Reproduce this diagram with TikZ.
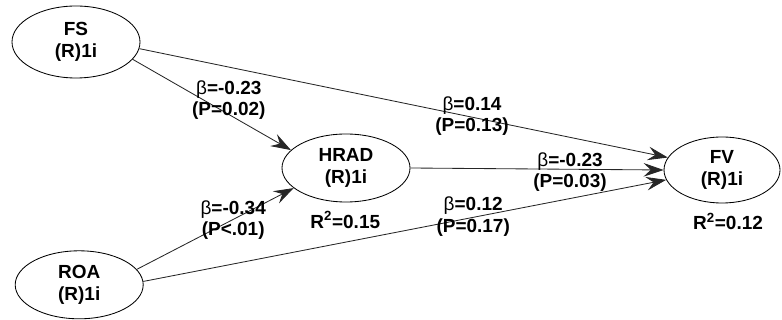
\documentclass[tikz,border=0pt]{standalone}
\usepackage{fontspec}
\setmainfont{Liberation Sans}
\usetikzlibrary{shapes.geometric,arrows.meta}

\newcommand{\coef}[2]{\textnormal{β}=#1\\(#2)}
\newcommand{\rsq}[1]{R\textsuperscript{2}=#1}

\tikzset{
  latent/.style={ellipse, draw, line width=0.6pt, minimum width=3.2cm, minimum height=1.8cm,
    align=center, inner sep=0pt},
  path/.style={line width=0.6pt, draw=black!85, -{Stealth[length=5mm, width=3.4mm, inset=1.8mm]}},
  coef/.style={align=center, inner sep=1pt},
  every node/.style={font=\fontsize{13.5}{15.5}\selectfont\bfseries}
}

\begin{document}
\begin{tikzpicture}
  \useasboundingbox (0,0) rectangle (19.55,8);
  % constructs
  \node[latent] (fs) at (1.9,6.95) {FS\\(R)1i};
  \node[latent, minimum height=1.7cm] (roa) at (1.98,0.88) {ROA\\(R)1i};
  \node[latent, minimum height=1.7cm] (hrad) at (8.65,3.8) {HRAD\\(R)1i};
  \node[latent, minimum width=2.9cm, minimum height=1.65cm] (fv) at (18.05,3.75) {FV\\(R)1i};
  \node (rhrad) at (8.63,2.5) {\rsq{0.15}};
  \node (rfv) at (18.2,2.47) {\rsq{0.12}};
  % paths
  \draw[path] (fs.-17) -- (hrad.162);
  \draw[path] (fs.-6) -- (fv.167);
  \draw[path] (hrad.0) -- (fv.180);
  \draw[path] (roa.15) -- (hrad.201);
  \draw[path] (roa.3) -- (fv.190);
  % coefficients
  \node[coef] (c1) at (5.72,5.5) {\coef{-0.23}{P=0.02}};
  \node[coef] (c2) at (11.8,5.1) {\coef{0.14}{P=0.13}};
  \node[coef] (c3) at (14.25,3.7) {\coef{-0.23}{P=0.03}};
  \node[coef] (c4) at (5.83,2.5) {\coef{-0.34}{P<.01}};
  \node[coef] (c5) at (11.83,2.58) {\coef{0.12}{P=0.17}};
\end{tikzpicture}
\end{document}
